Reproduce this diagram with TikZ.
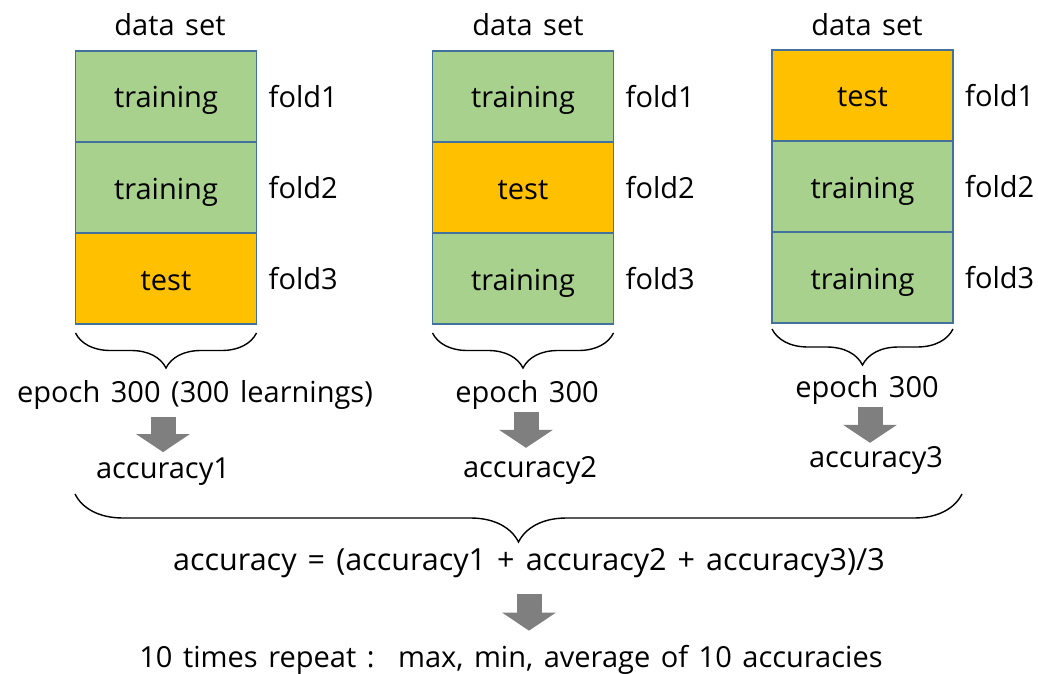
\documentclass[tikz,border=0pt]{standalone}
\usepackage{fontspec}
\setmainfont{Open Sans}[WordSpace=1.4]
\usepackage{xcolor}
\usetikzlibrary{positioning,arrows.meta,decorations.pathreplacing,calc}

\definecolor{traingreen}{HTML}{A9D18E}
\definecolor{testorange}{HTML}{FFC000}
\definecolor{edgeblue}{HTML}{41719C}
\definecolor{arrowgray}{HTML}{7F7F7F}

\begin{document}
\begin{tikzpicture}[
  x=1pt, y=-1pt,
  node distance=0pt and 12pt,
  fold/.style={draw=edgeblue, line width=1.2pt, fill=#1, minimum width=181pt, minimum height=91pt,
    inner sep=0pt, outer sep=0pt, text height=26pt, text depth=3pt, font=\fontsize{29}{34}\selectfont},
  fold/.default=traingreen,
  lab/.style={inner sep=0pt, font=\fontsize{29}{34}\selectfont},
  brc/.style={decorate, decoration={brace, amplitude=#1}, line width=1.4pt},
  blk/.style={draw=arrowgray, line width=25pt, -{Triangle[length=18pt, width=53pt]}, shorten <=5pt, shorten >=5pt}]
  \useasboundingbox (0,0) rectangle (1038,674);
  % column 1
  \node[fold] (a1) at (166,96.5) {training};
  \node[fold, below=of a1] (a2) {training};
  \node[fold=testorange, below=of a2] (a3) {test};
  % column 2
  \node[fold] (b1) at (523,96.5) {training};
  \node[fold=testorange, below=of b1] (b2) {test};
  \node[fold, below=of b2] (b3) {training};
  % column 3
  \node[fold=testorange] (c1) at (862.5,95.5) {test};
  \node[fold, below=of c1] (c2) {training};
  \node[fold, below=of c2] (c3) {training};
  % headings and fold names
  \foreach \col/\x in {a/170, b/528, c/867} {
    \node[lab, anchor=base] (ds\col) at (\x,36) {data set};
    \node[lab, right=of \col1] (fd\col1) {fold1};
    \node[lab, right=of \col2] (fd\col2) {fold2};
    \node[lab, right=of \col3] (fd\col3) {fold3};
  }
  % braces under each data set
  \draw[brc=35pt] ([yshift=-9pt]a3.south east) -- ([yshift=-9pt]a3.south west);
  \draw[brc=35pt] ([yshift=-9pt]b3.south east) -- ([yshift=-9pt]b3.south west);
  \draw[brc=36pt] ([yshift=-6pt]c3.south east) -- ([yshift=-6pt]c3.south west);
  \node[lab, anchor=base] (ep1) at (195,402) {epoch 300 (300 learnings)};
  \node[lab, anchor=base] (ep2) at (527,402) {epoch 300};
  \node[lab, anchor=base] (ep3) at (867,397) {epoch 300};
  \node[lab, anchor=base] (acc1) at (163,478) {accuracy1};
  \node[lab, anchor=base] (acc2) at (530,477) {accuracy2};
  \node[lab, anchor=base] (acc3) at (876,467) {accuracy3};
  \draw[blk, shorten <=8pt] (acc1.north |- ep1.south) -- (acc1.north);
  \draw[blk, shorten <=3pt, shorten >=8pt] ([xshift=-4pt]acc2.north |- ep2.south) -- ([xshift=-4pt]acc2.north);
  \draw[blk, shorten <=3pt, shorten >=3pt] ([xshift=-6pt]acc3.north |- ep3.south) -- ([xshift=-6pt]acc3.north);
  % overall
  \coordinate (bl) at (75,494);
  \coordinate (br) at (962,494);
  \draw[brc=48pt] (br) -- (bl);
  \node[lab, anchor=base, font=\fontsize{30.5}{34}\selectfont] (avg) at (529,570) {accuracy = (accuracy1 + accuracy2 + accuracy3)/3};
  \node[lab, anchor=base] (rep) at (511,667) {10 times repeat :~ max, min, average of 10 accuracies};
  \draw[blk, shorten <=16pt, shorten >=14pt] (avg.south) -- (avg.south |- rep.north);
\end{tikzpicture}
\end{document}
